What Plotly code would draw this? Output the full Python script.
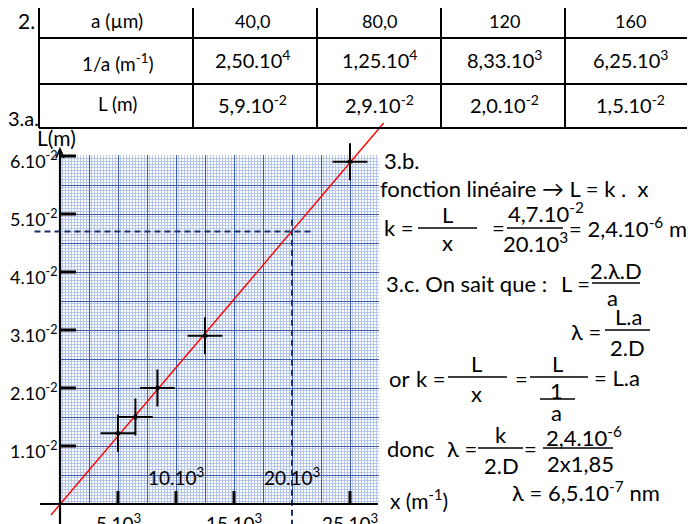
import plotly.graph_objects as go

W, H = 695, 524
OFF = 8   # the page places the figure 8 px from the window's top-left corner
FONT = "Lato, 'Noto Sans', sans-serif"

# ---------------- data ----------------
row_labels = ["a (µm)", "1/a (m<sup>-1</sup>)", "L (m)"]
a_values = ["40,0", "80,0", "120", "160"]
inv_a_values = ["2,50.10<sup>4</sup>", "1,25.10<sup>4</sup>", "8,33.10<sup>3</sup>", "6,25.10<sup>3</sup>"]
L_values = ["5,9.10<sup>-2</sup>", "2,9.10<sup>-2</sup>", "2,0.10<sup>-2</sup>", "1,5.10<sup>-2</sup>"]

x_pts = [5.0e3, 6.5e3, 8.4e3, 12.5e3, 25.0e3]          # 1/a (m^-1)
L_pts = [1.22e-2, 1.5e-2, 2.0e-2, 2.9e-2, 5.9e-2]      # L (m)
err_x = 1.5e3
err_L = 0.32e-2

fit_x = [-0.78e3, 27.9e3]
fit_L = [-0.19e-2, 6.57e-2]

read_x = 20e3
read_L = 4.7e-2
read_h_extent = [-2.2e3, 21.7e3]
read_v_extent = [4.9e-2, -0.5e-2]

y_tick_vals = [1e-2, 2e-2, 3e-2, 4e-2, 5e-2, 6e-2]
y_tick_text = ["1.10<sup>-2</sup>", "2.10<sup>-2</sup>", "3.10<sup>-2</sup>",
               "4.10<sup>-2</sup>", "5.10<sup>-2</sup>", "6.10<sup>-2</sup>"]
x_tick_vals = [5e3, 10e3, 15e3, 25e3]
x_lab_below_vals = [5e3, 15e3, 25e3]
x_lab_below_text = ["5.10<sup>3</sup>", "15.10<sup>3</sup>", "25.10<sup>3</sup>"]
x_lab_above_vals = [10e3, 20e3]
x_lab_above_text = ["10.10<sup>3</sup>", "20.10<sup>3</sup>"]

# ---------------- geometry (window pixels) ----------------
X0, Y0 = 60, 504          # origin pixel
SX = 11.6 / 1e3           # px per unit of x
SY = 58 / 1e-2            # px per unit of L
GRID_R, GRID_T = 379, 155
BODY = 22


def px(x):
    return (x - OFF) / W


def py(y):
    return 1 - (y - OFF) / H


fig = go.Figure()

# invisible anchor trace for the grid-paper subplot
fig.add_trace(go.Scatter(x=[0], y=[0], mode="markers", marker=dict(opacity=0),
                         hoverinfo="skip", showlegend=False, xaxis="x", yaxis="y"))

# fit line
fig.add_trace(go.Scatter(x=fit_x, y=fit_L, mode="lines", line=dict(color="#ff0000", width=1.4),
                         showlegend=False, xaxis="x2", yaxis="y2"))
# reading dashed lines
fig.add_trace(go.Scatter(x=read_h_extent, y=[read_L, read_L], mode="lines",
                         line=dict(color="#1a2f6e", width=2, dash="6px,4px"),
                         showlegend=False, xaxis="x2", yaxis="y2"))
fig.add_trace(go.Scatter(x=[read_x, read_x], y=read_v_extent, mode="lines",
                         line=dict(color="#1a2f6e", width=2, dash="6px,4px"),
                         showlegend=False, xaxis="x2", yaxis="y2"))
# measured points as crosses
fig.add_trace(go.Scatter(x=x_pts, y=L_pts, mode="markers",
                         marker=dict(size=5, color="black", symbol="diamond"),
                         error_x=dict(type="constant", value=err_x, thickness=2, width=0, color="black"),
                         error_y=dict(type="constant", value=err_L, thickness=2, width=0, color="black"),
                         showlegend=False, xaxis="x2", yaxis="y2"))

shapes = []
ann = []


def line(x0, y0, x1, y1, w=2, color="black"):
    shapes.append(dict(type="line", xref="paper", yref="paper", x0=px(x0), y0=py(y0),
                       x1=px(x1), y1=py(y1), line=dict(color=color, width=w)))


def text(x, y, t, size=BODY, xanchor="left"):
    ann.append(dict(x=px(x), y=py(y), xref="paper", yref="paper", text=t, showarrow=False,
                    xanchor=xanchor, yanchor="middle", font=dict(size=size, color="black", family=FONT)))


# ---- table ----
line(0, 4, W + OFF, 4, w=4)
line(4, 0, 4, H + OFF, w=4)
for xc in [39, 193, 317, 441, 565, 690]:
    line(xc, 4, xc, 128, w=2)
for yr in [38, 84, 128]:
    line(39, yr, W + OFF, yr, w=2)

text(16, 20, "2.", 21)
text(117, 20, row_labels[0], 19, "center")
text(117, 62, row_labels[1], 19, "center")
text(117, 104, row_labels[2], 19, "center")
col_centers = [253, 379, 504, 630]
for c, v in zip(col_centers, a_values):
    text(c, 21, v, 18, "center")
for c, v in zip(col_centers, inv_a_values):
    text(c, 59, v, 20, "center")
for c, v in zip(col_centers, L_values):
    text(c, 104, v, 20, "center")

# ---- graph decorations ----
text(6, 118, "3.a.", 20)
text(35, 137, "L(m)", 21)
line(X0, H + OFF, X0, 150, w=2.2)
shapes.append(dict(type="path", xref="paper", yref="paper",
                   path=f"M {px(56)} {py(158)} L {px(60)} {py(149)} L {px(64)} {py(158)}",
                   line=dict(color="black", width=1.8)))
line(40, Y0, 378, Y0, w=2)

for v, t in zip(y_tick_vals, y_tick_text):
    shapes.append(dict(type="line", xref="paper", yref="y2", x0=px(X0), x1=px(X0 + 16), y0=v, y1=v,
                       line=dict(color="black", width=3)))
    ann.append(dict(x=px(60), y=v, xref="paper", yref="y2", text=t, showarrow=False, xanchor="right",
                    yanchor="middle", yshift=-4, font=dict(size=18, color="black", family=FONT)))
for v in x_tick_vals:
    shapes.append(dict(type="line", xref="x2", yref="paper", x0=v, x1=v, y0=py(Y0), y1=py(Y0 - 13),
                       line=dict(color="black", width=3)))
for v, t in zip(x_lab_below_vals, x_lab_below_text):
    ann.append(dict(x=v, y=py(522), xref="x2", yref="paper", text=t, showarrow=False, xanchor="center",
                    yanchor="middle", font=dict(size=19, color="black", family=FONT)))
for v, t in zip(x_lab_above_vals, x_lab_above_text):
    ann.append(dict(x=v, y=py(476), xref="x2", yref="paper", text=t, showarrow=False, xanchor="center",
                    yanchor="middle", font=dict(size=19, color="black", family=FONT)))
text(388, 499, "x (m<sup>-1</sup>)", 21)

# ---- right text block ----
text(382, 160, "3.b.", BODY)
text(378, 188, "fonction linéaire → L = k .&nbsp; x", BODY)
text(382, 227, "k =", BODY)
text(447, 214, "L", BODY, "center")
line(418, 228, 477, 228, w=1.5)
text(447, 242, "x", BODY, "center")
text(490, 228, "=", BODY)
text(546, 212, "4,7.10<sup>-2</sup>", BODY, "center")
line(507, 228, 563, 228, w=1.5)
text(535, 242, "20.10<sup>3</sup>", BODY, "center")
text(567, 228, "= 2,4.10<sup>-6</sup> m<sup>2</sup>", BODY)

text(384, 283, "3.c. On sait que :", BODY)
text(559, 283, "L =", BODY)
text(616, 270, "2.λ.D", BODY, "center")
line(592, 283, 640, 283, w=1.5)
text(612, 297, "a", BODY, "center")

text(569, 331, "λ =", BODY)
text(628, 316, "L.a", BODY, "center")
line(605, 330, 650, 330, w=1.5)
text(627, 347, "2.D", BODY, "center")

text(387, 378, "or", BODY)
text(414, 378, "k =", BODY)
text(476, 363, "L", BODY, "center")
line(448, 377, 507, 377, w=1.5)
text(476, 393, "x", BODY, "center")
text(513, 378, "=", BODY)
text(557, 363, "L", BODY, "center")
line(530, 377, 588, 377, w=1.5)
text(556, 390, "1", BODY, "center")
line(540, 399, 575, 399, w=1.5)
text(556, 412, "a", BODY, "center")
text(592, 377, "= L.a", BODY)

text(385, 448, "donc", BODY)
text(445, 448, "λ =", BODY)
text(501, 434, "k", BODY, "center")
line(478, 448, 523, 448, w=1.5)
text(501, 465, "2.D", BODY, "center")
text(522, 448, "=", BODY)
text(584, 436, "2,4.10<sup>-6</sup>", BODY, "center")
line(543, 448, 613, 448, w=1.5)
text(580, 463, "2x1,85", BODY, "center")
text(510, 491, "λ = 6,5.10<sup>-7</sup> nm", BODY)

fig.update_layout(
    width=W, height=H, margin=dict(l=0, r=0, t=0, b=0),
    paper_bgcolor="white", plot_bgcolor="rgba(0,0,0,0)", showlegend=False,
    xaxis=dict(domain=[px(X0), px(GRID_R)], range=[0, (GRID_R - X0) / SX], anchor="y",
               showgrid=True, gridcolor="#3d5cb0", gridwidth=1, tick0=0, dtick=2500,
               minor=dict(dtick=250, tick0=0, showgrid=True, gridcolor="#b6c6e8", gridwidth=1),
               showticklabels=False, ticks="", zeroline=False, showline=False, fixedrange=True),
    yaxis=dict(domain=[py(Y0), py(GRID_T)], range=[0, (Y0 - GRID_T) / SY], anchor="x",
               showgrid=True, gridcolor="#3d5cb0", gridwidth=1, tick0=0, dtick=0.005,
               minor=dict(dtick=0.0005, tick0=0, showgrid=True, gridcolor="#b6c6e8", gridwidth=1),
               showticklabels=False, ticks="", zeroline=False, showline=False, fixedrange=True),
    xaxis2=dict(domain=[0, 1], range=[(OFF - X0) / SX, (W + OFF - X0) / SX], anchor="y2", visible=False),
    yaxis2=dict(domain=[0, 1], range=[-(H + OFF - Y0) / SY, (Y0 - OFF) / SY], anchor="x2", visible=False),
    shapes=shapes, annotations=ann,
)

fig.write_html("out.html")
